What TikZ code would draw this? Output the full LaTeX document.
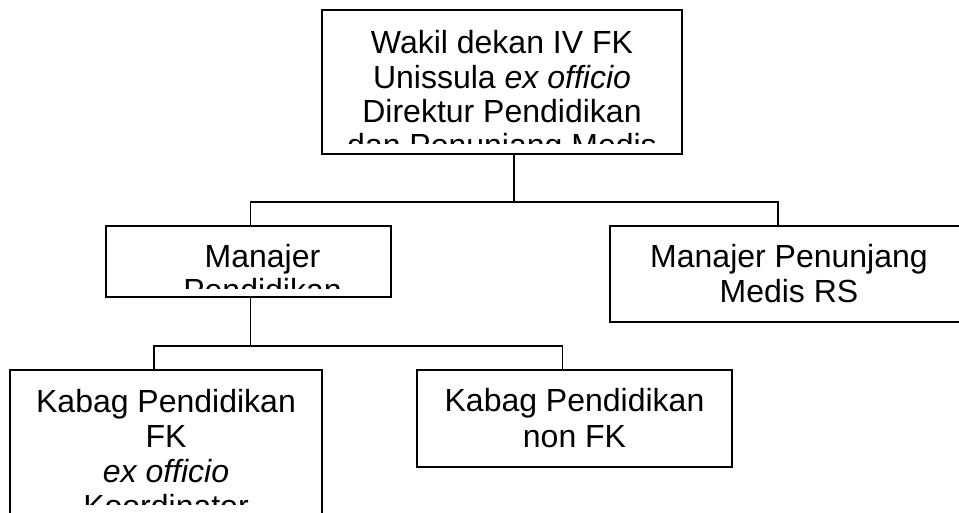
\documentclass[tikz,border=0pt]{standalone}
\usepackage{fontspec}
\setmainfont{Liberation Sans}
\begin{document}
\begin{tikzpicture}[x=1pt,y=-1pt,
  box/.style={draw, line width=1.1pt, inner sep=0pt, outer sep=0pt},
  txt/.style={anchor=base, inner sep=0pt, font=\fontsize{32}{34}\selectfont},
  conn/.style={draw, line width=1.1pt}]
\useasboundingbox (0,0) rectangle (959,512);
% boxes
\node[box, minimum width=360pt, minimum height=144pt] (wakil) at (502,82) {};
\node[box, minimum width=285pt, minimum height=71pt] (manp) at (248.5,261.5) {};
\node[box, minimum width=370pt, minimum height=96pt] (mpm) at (795,274) {};
\node[box, minimum width=312pt, minimum height=170pt] (kfk) at (166,455) {};
\node[box, minimum width=315pt, minimum height=97pt] (knfk) at (574.5,418.5) {};
% texts (clipped as in the original text boxes)
\begin{scope}
  \clip (wakil.north west) rectangle ([yshift=11pt]wakil.south east);
  \node[txt] (w1) at (502,53) {Wakil dekan IV FK};
  \node[txt] (w2) at (502,88) {Unissula \textit{ex officio}};
  \node[txt] (w3) at (502,122) {Direktur Pendidikan};
  \node[txt] (w4) at (502,156) {dan Penunjang Medis};
\end{scope}
\begin{scope}
  \clip (manp.north west) rectangle ([yshift=9pt]manp.south east);
  \node[txt] (m1) at (262.5,267) {Manajer};
  \node[txt] (m2) at (262.5,301) {Pendidikan};
\end{scope}
\node[txt] (r1) at (789,267) {Manajer Penunjang};
\node[txt] (r2) at (789,302) {Medis RS};
\begin{scope}
  \clip (kfk.north west) rectangle (kfk.east |- 0,504);
  \node[txt] (k1) at (166,412) {Kabag Pendidikan};
  \node[txt] (k2) at (166,447) {FK};
  \node[txt] (k3) at (166,482) {\textit{ex officio}};
  \node[txt] (k4) at (166,517) {Koordinator};
\end{scope}
\node[txt] (n1) at (574.5,411) {Kabag Pendidikan};
\node[txt] (n2) at (574.5,447) {non FK};
% connectors
\coordinate (j1) at (514,202);
\coordinate (j2) at (250.6,346);
\draw[conn] (wakil.south -| j1) -- (j1);
\draw[conn] (manp.north -| j2) |- (j1) -| (mpm.north -| 778,0);
\draw[conn] (manp.south -| j2) -- (j2);
\draw[conn] (kfk.north -| 154,0) |- (j2) -| (knfk.north -| 562.3,0);
\end{tikzpicture}
\end{document}
